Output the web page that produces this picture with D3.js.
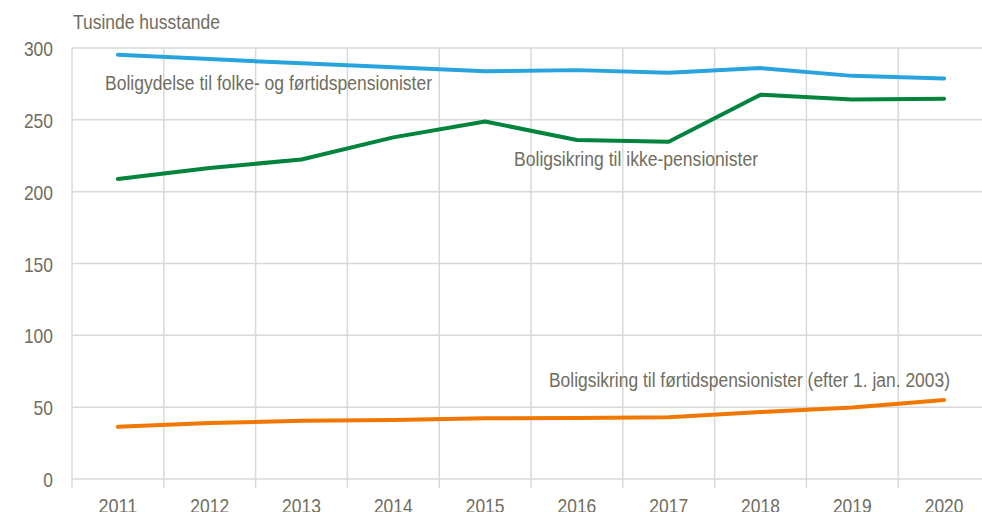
<!DOCTYPE html>
<html>
  <head>
    <meta charset="utf-8" />
    <script src="https://cdn.jsdelivr.net/npm/d3@7"></script>
    <style>
      body { margin: 0; background: #fff; }
      text { font-family: "Liberation Sans Narrow", "Arial Narrow", "Liberation Sans", Arial, sans-serif; fill: #6f6d5e; }
      .grid line { stroke: #d9d9d9; stroke-width: 1.5; }
      .series { fill: none; stroke-width: 4; stroke-linejoin: round; stroke-linecap: round; }
    </style>
  </head>
  <body>
    <div id="chart"></div>
    <script type="text/javascript">
      var w = 982, h = 512;

      var years = ["2011", "2012", "2013", "2014", "2015", "2016", "2017", "2018", "2019", "2020"];
      var yTicks = [0, 50, 100, 150, 200, 250, 300];

      var boligydelse = [295.3, 292.3, 289.3, 286.6, 283.8, 284.6, 282.8, 286.0, 280.6, 278.8];
      var ikkePension = [208.8, 216.5, 222.4, 237.8, 248.8, 236.0, 234.8, 267.5, 264.2, 264.7];
      var foertid = [36.3, 39.0, 40.5, 41.0, 42.3, 42.4, 43.0, 46.6, 49.8, 55.0];

      var series = [
        { values: boligydelse, color: "#29a3de" },
        { values: ikkePension, color: "#00843d" },
        { values: foertid, color: "#f07800" }
      ];

      var labels = [
        { text: "Boligydelse til folke- og førtidspensionister", x: 105, y: 90, len: 327 },
        { text: "Boligsikring til ikke-pensionister", x: 514, y: 166, len: 244 },
        { text: "Boligsikring til førtidspensionister (efter 1. jan. 2003)", x: 549, y: 387, len: 401 }
      ];

      var mLeft = 72, mTop = 48, mBottom = 479, mRight = 990;
      var digitW = 9.7; // narrow-font digit width

      var x = d3.scaleBand().domain(years).range([mLeft, mRight]);
      var y = d3.scaleLinear().domain([0, 300]).range([mBottom, mTop]);

      var svg = d3.select("#chart").append("svg")
        .attr("width", w)
        .attr("height", h);

      var grid = svg.append("g").attr("class", "grid");

      grid.selectAll("line.h").data(yTicks).enter()
        .append("line")
        .attr("x1", mLeft).attr("x2", w)
        .attr("y1", function(d) { return y(d); })
        .attr("y2", function(d) { return y(d); });

      grid.selectAll("line.v").data(years).enter()
        .append("line")
        .attr("x1", function(d) { return x(d); })
        .attr("x2", function(d) { return x(d); })
        .attr("y1", mTop).attr("y2", mBottom + 9);

      svg.append("g").selectAll("text").data(yTicks).enter()
        .append("text")
        .attr("x", 53)
        .attr("y", function(d) { return y(d) + 8; })
        .attr("text-anchor", "end")
        .attr("font-size", 21)
        .attr("textLength", function(d) { return String(d).length * digitW; })
        .attr("lengthAdjust", "spacingAndGlyphs")
        .text(function(d) { return d; });

      svg.append("g").selectAll("text").data(years).enter()
        .append("text")
        .attr("x", function(d) { return x(d) + x.bandwidth() / 2; })
        .attr("y", 513)
        .attr("text-anchor", "middle")
        .attr("font-size", 21)
        .attr("textLength", function(d) { return d.length * digitW; })
        .attr("lengthAdjust", "spacingAndGlyphs")
        .text(function(d) { return d; });

      svg.append("text")
        .attr("x", 73).attr("y", 29)
        .attr("font-size", 20)
        .attr("textLength", 147)
        .attr("lengthAdjust", "spacingAndGlyphs")
        .text("Tusinde husstande");

      var line = d3.line()
        .x(function(d, i) { return x(years[i]) + x.bandwidth() / 2; })
        .y(function(d) { return y(d); });

      svg.selectAll("path.series").data(series).enter()
        .append("path")
        .attr("class", "series")
        .attr("stroke", function(d) { return d.color; })
        .attr("d", function(d) { return line(d.values); });

      svg.selectAll("text.lbl").data(labels).enter()
        .append("text")
        .attr("class", "lbl")
        .attr("x", function(d) { return d.x; })
        .attr("y", function(d) { return d.y; })
        .attr("font-size", 20)
        .attr("textLength", function(d) { return d.len; })
        .attr("lengthAdjust", "spacingAndGlyphs")
        .text(function(d) { return d.text; });
    </script>
  </body>
</html>
